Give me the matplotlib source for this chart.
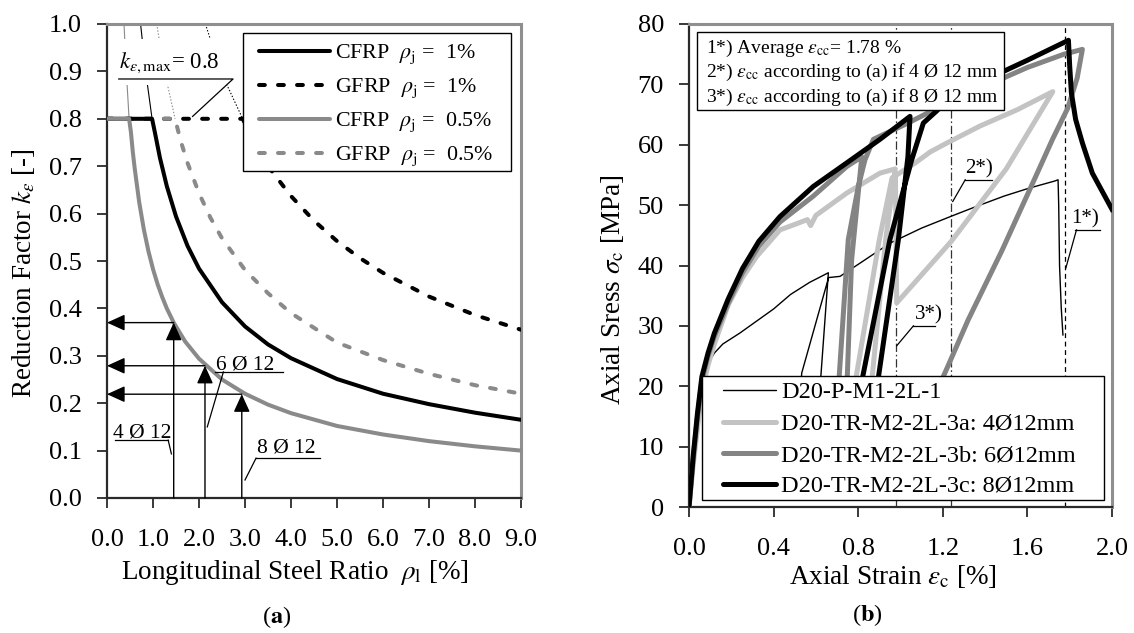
import matplotlib
matplotlib.use('Agg')
import matplotlib.pyplot as plt
from matplotlib.lines import Line2D
from matplotlib.patches import Rectangle

plt.rcParams['font.family'] = ['Liberation Serif', 'DejaVu Serif']
plt.rcParams['mathtext.fontset'] = 'stix'
plt.rcParams['lines.scale_dashes'] = False

# ---------------- data: panel (a) ----------------
cfrp1_rho = [0.0, 0.98, 1.05, 1.15, 1.3, 1.5, 1.75, 2.0, 2.5, 3.0, 3.5, 4.0, 5.0, 6.0, 7.0, 8.0, 9.0]
cfrp1_k = [0.80, 0.80, 0.767, 0.718, 0.658, 0.594, 0.532, 0.484, 0.413, 0.362, 0.324, 0.295, 0.251, 0.220, 0.198, 0.180, 0.165]

gfrp1_rho = [0.0, 2.95, 3.25, 3.5, 4.0, 4.5, 5.0, 5.5, 6.0, 7.0, 8.0, 9.0]
gfrp1_k = [0.80, 0.80, 0.739, 0.700, 0.637, 0.585, 0.542, 0.506, 0.475, 0.425, 0.386, 0.355]

cfrp05_rho = [0.0, 0.48, 0.52, 0.56, 0.6, 0.7, 0.8, 0.9, 1.0, 1.1, 1.2, 1.3, 1.45, 1.7, 2.0, 2.5, 3.0, 3.5, 4.0, 5.0, 6.0, 7.0, 8.0, 9.0]
cfrp05_k = [0.80, 0.80, 0.772, 0.731, 0.697, 0.624, 0.567, 0.521, 0.483, 0.451, 0.424, 0.400, 0.370, 0.330, 0.294, 0.250, 0.220, 0.197, 0.179, 0.152, 0.134, 0.120, 0.109, 0.100]

gfrp05_rho = [0.0, 1.48, 1.6, 1.75, 2.0, 2.25, 2.5, 3.0, 3.5, 4.0, 5.0, 6.0, 7.0, 8.0, 9.0]
gfrp05_k = [0.80, 0.80, 0.754, 0.707, 0.643, 0.591, 0.548, 0.481, 0.432, 0.390, 0.328, 0.291, 0.262, 0.238, 0.220]

# thin continuation of the curves above k_max
upper_k = [1.0, 0.9, 0.8]
cfrp1_up_rho = [0.73, 0.84, 0.98]
gfrp1_up_rho = [2.14, 2.47, 2.95]
cfrp05_up_rho = [0.37, 0.42, 0.48]
gfrp05_up_rho = [1.08, 1.25, 1.48]

legendA_labels = [r'CFRP  $\rho_\mathrm{j}$ =  1%', r'GFRP  $\rho_\mathrm{j}$ =  1%',
                  r'CFRP  $\rho_\mathrm{j}$ =  0.5%', r'GFRP  $\rho_\mathrm{j}$ =  0.5%']

rebar_labels = ['4 Ø 12', '6 Ø 12', '8 Ø 12']
rebar_rho = [1.45, 2.13, 2.93]
rebar_k = [0.370, 0.279, 0.219]

xticksA = [0, 1, 2, 3, 4, 5, 6, 7, 8, 9]
yticksA = [0.0, 0.1, 0.2, 0.3, 0.4, 0.5, 0.6, 0.7, 0.8, 0.9, 1.0]

# ---------------- data: panel (b) ----------------
strain_P = [0, 0.02, 0.04, 0.061, 0.086, 0.12, 0.16, 0.24, 0.32, 0.40, 0.48, 0.57, 0.659, 0.62, 0.58,
            0.50, 0.533, 0.66, 0.714, 0.809, 0.95, 1.10, 1.25, 1.36, 1.49, 1.607, 1.73, 1.745,
            1.748, 1.752, 1.76, 1.768]
stress_P = [0, 8, 15, 20.5, 23.5, 25.5, 27.0, 28.8, 30.8, 32.8, 35.2, 37.2, 38.8, 20.0, 3.0,
            6.0, 22.2, 38.0, 38.2, 40.4, 43.7, 46.2, 48.3, 49.8, 51.5, 52.8, 54.0, 54.2,
            50.0, 40.0, 33.0, 28.5]

strain_3a = [0, 0.02, 0.04, 0.06, 0.09, 0.12, 0.186, 0.253, 0.32, 0.43, 0.50, 0.56, 0.575, 0.60,
             0.746, 0.903, 0.975, 0.93, 0.86, 0.80, 0.76, 0.78, 0.90, 0.96, 1.07, 1.14, 1.22,
             1.376, 1.552, 1.72, 1.50, 1.24, 0.982, 0.976]
stress_3a = [0, 7, 13, 19, 23.5, 27, 33.5, 38, 41.5, 45.9, 46.8, 47.6, 46.6, 48.3,
             52.0, 55.3, 56.0, 44.3, 19.4, 3.0, 3.0, 19.4, 44.3, 54.5, 57.0, 58.8, 60.3,
             63.1, 65.8, 68.8, 56.0, 44.0, 33.8, 55.0]

strain_3b = [0, 0.02, 0.04, 0.061, 0.09, 0.12, 0.186, 0.253, 0.33, 0.43, 0.588, 0.746, 0.817,
             0.769, 0.746, 0.72, 0.69, 0.706, 0.753, 0.80, 0.832, 0.872, 0.95, 1.03, 1.17, 1.30,
             1.49, 1.60, 1.773, 1.86, 1.835, 1.79, 1.72, 1.64, 1.48, 1.32, 1.21, 1.10]
stress_3b = [0, 8, 15, 21, 25, 28.3, 33.8, 38.8, 43.2, 47.2, 51.5, 56.4, 58.0,
             41.0, 19.4, 3.0, 3.0, 19.4, 44.3, 53.0, 57.5, 60.9, 62.2, 63.5, 66.0, 68.5,
             71.1, 72.8, 75.0, 75.8, 71.0, 66.0, 61.0, 54.8, 42.5, 31.0, 22.2, 14.0]

strain_3c = [0, 0.02, 0.04, 0.061, 0.09, 0.12, 0.186, 0.253, 0.33, 0.43, 0.588, 0.746, 0.903,
             1.045, 1.035, 0.99, 0.887, 0.84, 0.79, 0.809, 0.95, 1.053, 1.108, 1.171, 1.25,
             1.35, 1.49, 1.60, 1.70, 1.794, 1.80, 1.808, 1.828, 1.86, 1.907, 2.0]
stress_3c = [0, 8.5, 15.5, 21.6, 25.5, 28.8, 34.5, 39.5, 44.0, 48.1, 53.1, 57.0, 60.9,
             64.7, 58.0, 44.3, 19.4, 3.0, 3.0, 19.4, 44.3, 57.5, 63.6, 65.6, 68.5,
             70.4, 72.2, 74.0, 75.7, 77.3, 73.0, 68.6, 64.2, 60.3, 55.3, 49.3]

legendB_labels = ['D20-P-M1-2L-1', 'D20-TR-M2-2L-3a: 4Ø12mm',
                  'D20-TR-M2-2L-3b: 6Ø12mm', 'D20-TR-M2-2L-3c: 8Ø12mm']

eps_cc_values = [1.78, 1.24, 0.98]
eps_cc_labels = ['1*)', '2*)', '3*)']
noteB_lines = [r'1*) Average $\varepsilon_\mathrm{cc}$= 1.78 %',
               r'2*) $\varepsilon_\mathrm{cc}$ according to (a) if 4 Ø 12 mm',
               r'3*) $\varepsilon_\mathrm{cc}$ according to (a) if 8 Ø 12 mm']

xticksB = [0.0, 0.4, 0.8, 1.2, 1.6, 2.0]
yticksB = [0, 10, 20, 30, 40, 50, 60, 70, 80]

# ---------------- figure ----------------
W, H = 1134, 633
fig = plt.figure(figsize=(W / 100, H / 100), dpi=100)


def fx(p):
    return p / W


def fy(p):
    return 1 - p / H


axA = fig.add_axes([fx(107), fy(498), (521 - 107) / W, (498 - 24) / H])
axB = fig.add_axes([fx(689), fy(507), (1112 - 689) / W, (507 - 24) / H])

GRAY = '#8a8a8a'
LGRAY = '#c3c3c3'
MGRAY = '#848484'
FRAME = '#8f8f8f'
AXC = '#2a2a2a'
DASH = (0, (4.2, 9.5))
TICK_FS = 19
LABEL_FS = 19.5

for ax in (axA, axB):
    for s in ('top', 'right'):
        ax.spines[s].set_color(FRAME)
        ax.spines[s].set_linewidth(2.2)
    for s in ('left', 'bottom'):
        ax.spines[s].set_color(AXC)
        ax.spines[s].set_linewidth(1.6)
    ax.tick_params(axis='both', direction='out', length=7, width=1.3, color=AXC,
                   labelsize=TICK_FS)
    ax.tick_params(axis='x', pad=15)
    ax.tick_params(axis='y', pad=11)

# ---------------- panel (a) ----------------
axA.set_xlim(0, 9)
axA.set_ylim(0, 1.0)
axA.set_xticks(xticksA)
axA.set_xticklabels(['%.1f' % v for v in xticksA])
axA.set_yticks(yticksA)
axA.set_yticklabels(['%.1f' % v for v in yticksA])

axA.plot(gfrp1_rho, gfrp1_k, color='black', lw=2.9, ls=DASH, dash_capstyle='round', zorder=3)
axA.plot(gfrp05_rho, gfrp05_k, color=GRAY, lw=2.9, ls=DASH, dash_capstyle='round', zorder=3.2)
axA.plot(cfrp1_rho, cfrp1_k, color='black', lw=2.9, zorder=3.4)
axA.plot(cfrp05_rho, cfrp05_k, color=GRAY, lw=2.9, zorder=3.6)

axA.plot(cfrp1_up_rho, upper_k, color='black', lw=0.8, zorder=2)
axA.plot(cfrp05_up_rho, upper_k, color=GRAY, lw=0.8, zorder=2)
axA.plot(gfrp1_up_rho, upper_k, color='black', lw=0.8, ls=(0, (1, 1.3)), zorder=2)
axA.plot(gfrp05_up_rho, upper_k, color=GRAY, lw=0.8, ls=(0, (1, 1.3)), zorder=2)

# k_max label with white backing, underline and leader
axA.add_patch(Rectangle((0.2, 0.872), 2.45, 0.096, fc='white', ec='none', zorder=2.5))
axA.text(0.255, 0.9065, r'$k_{\varepsilon,\mathrm{max}}$= 0.8', fontsize=16.5,
         ha='left', va='baseline', zorder=5)
axA.plot([0.255, 2.74, 1.86], [0.884, 0.884, 0.805], color='black', lw=0.9, zorder=5)

arrow_style = '-|>,head_length=0.55,head_width=0.25'
for xr, kr in zip(rebar_rho, rebar_k):
    axA.annotate('', xy=(xr, kr), xytext=(xr, 0), zorder=6,
                 arrowprops=dict(arrowstyle=arrow_style, mutation_scale=20, color='black',
                                 lw=1.0, shrinkA=0, shrinkB=0))
    axA.annotate('', xy=(0, kr), xytext=(xr, kr), zorder=6, annotation_clip=False,
                 arrowprops=dict(arrowstyle=arrow_style, mutation_scale=20, color='black',
                                 lw=1.0, shrinkA=0, shrinkB=0))

# rebar labels: text centre x, baseline y, underline (x0, x1, y), leader end
rebar_text_pos = [(0.76, 0.128), (3.0, 0.271), (3.9, 0.097)]
rebar_under = [(0.17, 1.33, 0.122), (2.34, 3.82, 0.266), (3.24, 4.64, 0.084)]
rebar_leader = [((1.33, 0.122), (1.40, 0.093)), ((2.53, 0.266), (2.18, 0.150)),
                ((3.24, 0.084), (3.00, 0.038))]
for lab, (tx, ty), (u0, u1, uy), (p0, p1) in zip(rebar_labels, rebar_text_pos, rebar_under, rebar_leader):
    axA.text(tx, ty, lab, fontsize=15.5, ha='center', va='baseline', zorder=6)
    axA.plot([u0, u1], [uy, uy], color='black', lw=0.9, zorder=6)
    axA.plot([p0[0], p1[0]], [p0[1], p1[1]], color='black', lw=0.9, zorder=6)

axA.set_xlabel(r'Longitudinal Steel Ratio  $\rho_\mathrm{l}$ [%]', fontsize=LABEL_FS)
axA.xaxis.set_label_coords(0.454, -0.127)
axA.set_ylabel(r'Reduction Factor $k_\varepsilon$ [-]', fontsize=LABEL_FS)
axA.yaxis.set_label_coords(-0.17, 0.475)

# legend (a), drawn manually
fig.patches.append(Rectangle((fx(243), fy(171)), (511 - 243) / W, (171 - 33) / H,
                             transform=fig.transFigure, fc='white', ec='black', lw=1.0, zorder=10))
legA_styles = [dict(color='black', ls='-'), dict(color='black', ls=DASH),
               dict(color=GRAY, ls='-'), dict(color=GRAY, ls=DASH)]
legA_rows = [51, 85, 118.5, 153]
for lab, st, ry in zip(legendA_labels, legA_styles, legA_rows):
    fig.lines.append(Line2D([fx(259), fx(330)], [fy(ry), fy(ry)], transform=fig.transFigure,
                            lw=2.9, dash_capstyle='round', solid_capstyle='round', zorder=11, **st))
    fig.text(fx(335), fy(ry + 7.0), lab, fontsize=15.8, ha='left', va='baseline', zorder=12)

# ---------------- panel (b) ----------------
axB.set_xlim(0, 2.0)
axB.set_ylim(0, 80)
axB.set_xticks(xticksB)
axB.set_xticklabels(['%.1f' % v for v in xticksB])
axB.set_yticks(yticksB)

axB.axvline(eps_cc_values[0], color='black', lw=0.9, ls=(0, (3.5, 2.6)), zorder=2)
axB.axvline(eps_cc_values[1], color='#333333', lw=0.9, ls=(0, (6, 2, 1.2, 2)), zorder=2)
axB.axvline(eps_cc_values[2], color='#333333', lw=0.9, ls=(0, (6, 2, 1.2, 2)), zorder=2)

axB.plot(strain_P, stress_P, color='black', lw=1.0, zorder=3)
axB.plot(strain_3a, stress_3a, color=LGRAY, lw=3.6, zorder=3.2, solid_joinstyle='round')
axB.plot(strain_3b, stress_3b, color=MGRAY, lw=3.6, zorder=3.4, solid_joinstyle='round')
axB.plot(strain_3c, stress_3c, color='black', lw=3.6, zorder=3.6, solid_joinstyle='round')

# eps_cc annotations: text centre x, baseline y, underline and leader
note_text_pos = [(1.874, 47.0), (1.37, 55.3), (1.135, 31.0)]
note_under = [(1.824, 1.941, 45.9), (1.306, 1.431, 54.2), (1.061, 1.163, 30.0)]
note_leader = [((1.832, 45.9), (1.782, 39.6)), ((1.306, 54.2), (1.247, 50.6)),
               ((1.061, 30.0), (0.982, 26.7))]
for lab, (tx, ty), (u0, u1, uy), (p0, p1) in zip(eps_cc_labels, note_text_pos, note_under, note_leader):
    axB.text(tx, ty, lab, fontsize=15, ha='center', va='baseline', zorder=6)
    axB.plot([u0, u1], [uy, uy], color='black', lw=0.9, zorder=6)
    axB.plot([p0[0], p1[0]], [p0[1], p1[1]], color='black', lw=0.9, zorder=6)

axB.set_xlabel(r'Axial Strain $\varepsilon_\mathrm{c}$ [%]', fontsize=LABEL_FS)
axB.xaxis.set_label_coords(0.482, -0.116)
axB.set_ylabel(r'Axial Sress $\sigma_\mathrm{c}$ [MPa]', fontsize=LABEL_FS)
axB.yaxis.set_label_coords(-0.149, 0.449)

# upper note box (b)
fig.patches.append(Rectangle((fx(697), fy(110)), (1004 - 697) / W, (110 - 32) / H,
                             transform=fig.transFigure, fc='white', ec='black', lw=1.0, zorder=10))
for line, by in zip(noteB_lines, [52.7, 77.3, 101.7]):
    fig.text(fx(706), fy(by), line, fontsize=14, ha='left', va='baseline', zorder=12)

# lower legend (b)
fig.patches.append(Rectangle((fx(702), fy(500)), (1104 - 702) / W, (500 - 376) / H,
                             transform=fig.transFigure, fc='white', ec='black', lw=1.0, zorder=10))
legB_styles = [dict(color='black', lw=1.0), dict(color=LGRAY, lw=3.6),
               dict(color=MGRAY, lw=3.6), dict(color='black', lw=3.6)]
legB_rows = [390, 421.7, 453.3, 484]
for lab, st, ry in zip(legendB_labels, legB_styles, legB_rows):
    fig.lines.append(Line2D([fx(723), fx(776)], [fy(ry), fy(ry)], transform=fig.transFigure,
                            solid_capstyle='round', zorder=11, **st))
    fig.text(fx(781), fy(ry + 8), lab, fontsize=17.5, ha='left', va='baseline', zorder=12)

# captions
fig.text(fx(277), fy(617), r'($\mathbf{a}$)', fontsize=17.5, ha='center', va='center')
fig.text(fx(867), fy(615), r'($\mathbf{b}$)', fontsize=17.5, ha='center', va='center')

fig.savefig('out.png', dpi=100)
